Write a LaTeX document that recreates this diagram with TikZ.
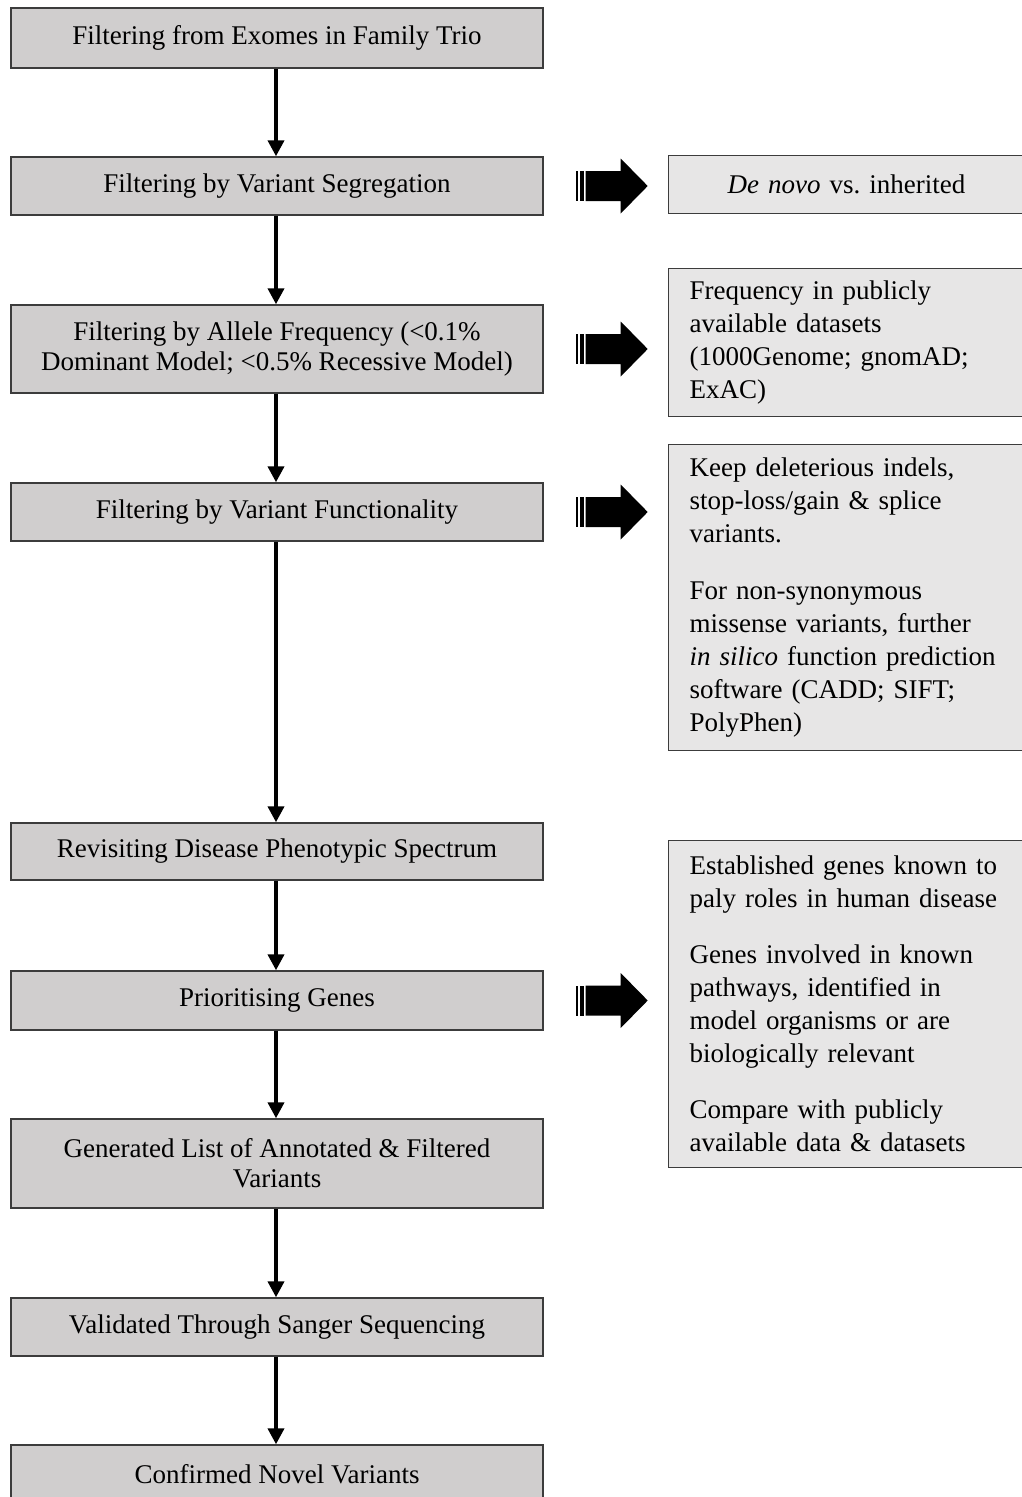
\documentclass[tikz,border=0pt]{standalone}
\usepackage{fontspec}
\setmainfont{Liberation Serif}
\usetikzlibrary{arrows.meta}
\definecolor{lgray}{HTML}{D0CECE}
\definecolor{rgray}{HTML}{E7E6E6}
\definecolor{bord}{HTML}{3C3C3C}
\tikzset{
  lbox/.style={draw=bord, line width=1.4pt, fill=lgray, minimum width=532pt,
    inner sep=0pt, align=center, font=\fontsize{27}{30}\selectfont},
  rbox/.style={draw=bord, line width=1.4pt, fill=rgray, text width=313.5pt,
    inner xsep=21pt, inner ysep=0pt, anchor=north west,
    font=\fontsize{27}{33}\selectfont},
  flow/.style={line width=3.8pt, -{Triangle[width=16pt,length=16pt]}},
  blockarrow/.pic={
    \fill (0,-15) rectangle (1.8,15);
    \fill (3.8,-15) rectangle (8,15);
    \fill (10,-15) -- (45,-15) -- (45,-27.5) -- (72,0) -- (45,27.5) -- (45,15) -- (10,15) -- cycle;
  }
}
\begin{document}
\frenchspacing
\begin{tikzpicture}[x=1pt,y=-1pt]
\useasboundingbox (0,0) rectangle (1022,1497);
% left flow boxes
\node[lbox, minimum height=60pt] (b1) at (277,38) {Filtering from Exomes in Family Trio};
\node[lbox, minimum height=58pt] (b2) at (277,186) {Filtering by Variant Segregation};
\node[lbox, minimum height=88pt] (b3) at (277,349) {Filtering by Allele Frequency (<0.1\%\\Dominant Model; <0.5\% Recessive Model)};
\node[lbox, minimum height=58pt] (b4) at (277,512) {Filtering by Variant Functionality};
\node[lbox, minimum height=57pt] (b5) at (277,851.5) {Revisiting Disease Phenotypic Spectrum};
\node[lbox, minimum height=59pt] (b6) at (277,1000.5) {Prioritising Genes};
\node[lbox, minimum height=89pt] (b7) at (277,1163.5) {Generated List of Annotated \& Filtered\\Variants};
\node[lbox, minimum height=58pt] (b8) at (277,1327) {Validated Through Sanger Sequencing};
\node[lbox, minimum height=58pt] (b9) at (277,1474) {Confirmed Novel Variants};
% right info boxes
\node[rbox, minimum height=58pt, align=center] (r1) at (668,155) {\textit{De novo} vs. inherited};
\node[rbox, minimum height=148pt, align=left] (r2) at (668,268) {Frequency in publicly\\available datasets\\(1000Genome; gnomAD;\\ExAC)};
\node[rbox, minimum height=306pt, align=left] (r3) at (668,444) {Keep deleterious indels,\\stop-loss/gain \& splice\\variants.\\[24pt]For non-synonymous\\missense variants, further\\\textit{in silico} function prediction\\software (CADD; SIFT;\\PolyPhen)};
\node[rbox, minimum height=327pt, align=left] (r4) at (668,840) {Established genes known to\\paly roles in human disease\\[23pt]Genes involved in known\\pathways, identified in\\model organisms or are\\biologically relevant\\[23pt]Compare with publicly\\available data \& datasets};
% vertical connectors
\draw[flow] ([xshift=-1pt]b1.south) -- ([xshift=-1pt]b2.north);
\draw[flow] ([xshift=-1pt]b2.south) -- ([xshift=-1pt]b3.north);
\draw[flow] ([xshift=-1pt]b3.south) -- ([xshift=-1pt]b4.north);
\draw[flow] ([xshift=-1pt]b4.south) -- ([xshift=-1pt]b5.north);
\draw[flow] ([xshift=-1pt]b5.south) -- ([xshift=-1pt]b6.north);
\draw[flow] ([xshift=-1pt]b6.south) -- ([xshift=-1pt]b7.north);
\draw[flow] ([xshift=-1pt]b7.south) -- ([xshift=-1pt]b8.north);
\draw[flow] ([xshift=-1pt]b8.south) -- ([xshift=-1pt]b9.north);
% block arrows
\pic at ([xshift=32pt]b2.east) {blockarrow};
\pic at ([xshift=32pt]b3.east) {blockarrow};
\pic at ([xshift=32pt]b4.east) {blockarrow};
\pic at ([xshift=32pt]b6.east) {blockarrow};
\end{tikzpicture}
\end{document}
